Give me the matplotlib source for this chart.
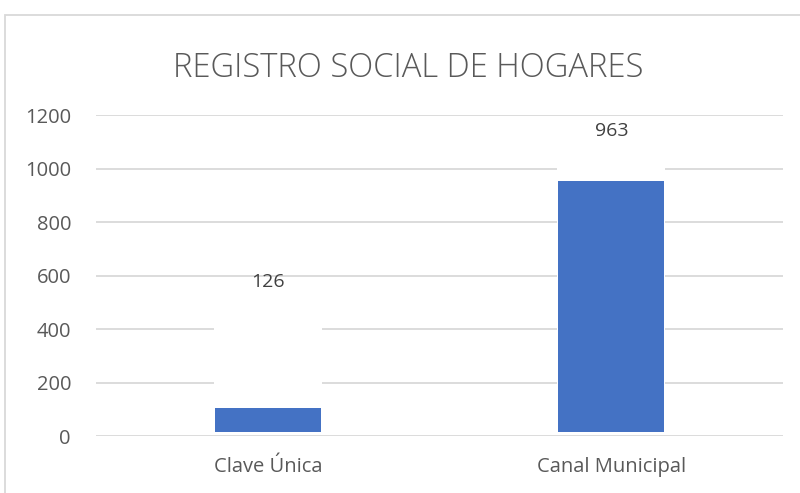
import matplotlib
matplotlib.use('Agg')
import matplotlib.pyplot as plt
from matplotlib.patches import Rectangle

# --- DATOS ---
categorias = ["Clave Única", "Canal Municipal"]
valores = [126, 963]            # etiquetas de datos
base_barras = [15, 15]          # las barras del original no parten en 0
tope_barras = [105, 955]        # altura visible de cada barra
pos_etiquetas = [577, 1142]     # altura a la que aparece cada etiqueta
y_ticks = [0, 200, 400, 600, 800, 1000, 1200]
titulo = "REGISTRO SOCIAL DE HOGARES"

azul = "#4472C4"
gris_texto = "#595959"
gris_linea = "#D9D9D9"
fuente = "Open Sans"

fig = plt.figure(figsize=(8, 4.93), dpi=100)
ax = fig.add_axes([0.12, 0.1156, 0.85875, 0.6511])

x = list(range(len(categorias)))
alturas = [t - b for t, b in zip(tope_barras, base_barras)]

# Zonas blancas que tapan las lineas de la grilla sobre las barras
ax.bar(x, [350, 1000], bottom=[150, 100], width=0.315, color="white", zorder=2)
ax.bar(x, alturas, bottom=base_barras, width=0.31, color=azul, zorder=3)

for xi, v, yl in zip(x, valores, pos_etiquetas):
    ax.text(xi, yl, str(v), ha="center", va="center", fontsize=14,
            color="#404040", family=fuente, zorder=4)

ax.set_xlim(-0.5, 1.5)
ax.set_ylim(0, 1200)
ax.set_yticks(y_ticks)
ax.set_xticks(x)
ax.set_xticklabels(categorias)
ax.grid(axis="y", color=gris_linea, linewidth=1.3, zorder=1)
ax.set_axisbelow(True)
for s in ax.spines.values():
    s.set_visible(False)
ax.tick_params(length=0, colors=gris_texto, labelsize=14.5)
ax.tick_params(axis="y", pad=18)
ax.tick_params(axis="x", pad=15)
for lbl in ax.get_xticklabels() + ax.get_yticklabels():
    lbl.set_family(fuente)

fig.text(0.51, 0.844, titulo, ha="center", va="baseline", fontsize=23.6,
         color=gris_texto, family=fuente, fontweight="light")

# Borde del area del grafico
fig.patches.append(Rectangle((5 / 800, -0.1), 1.1, 0.1 + 478 / 493,
                             transform=fig.transFigure, fill=False,
                             edgecolor=gris_linea, linewidth=1.3))

fig.savefig("out.png", dpi=100)
